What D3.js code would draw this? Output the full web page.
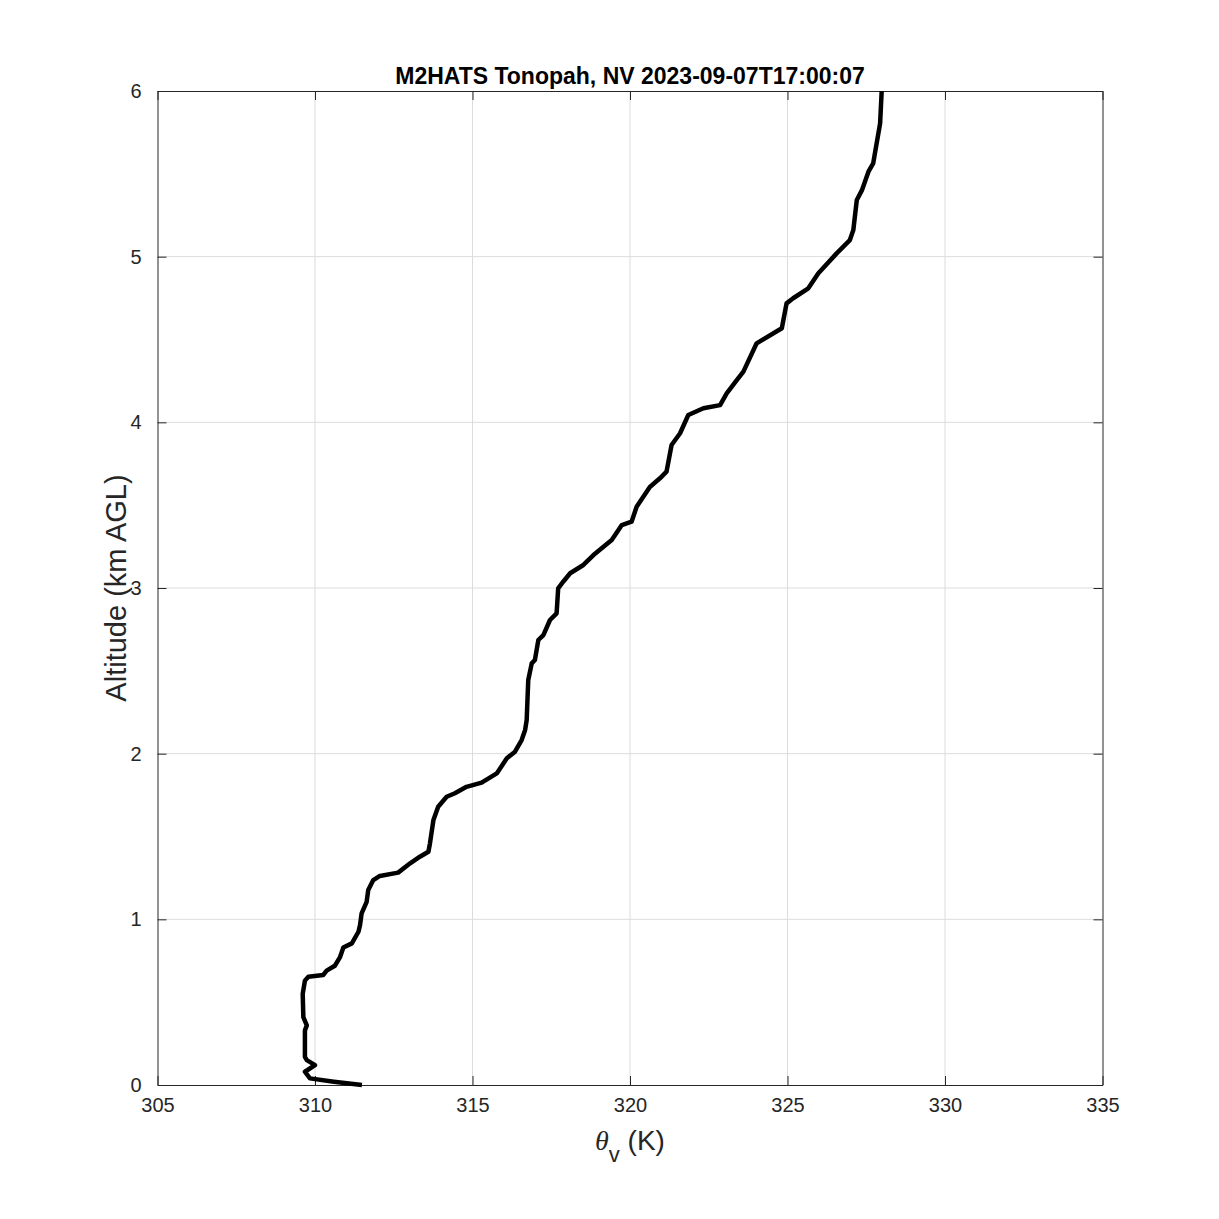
<!DOCTYPE html>
<html>
<head>
<meta charset="utf-8">
<script src="https://cdn.jsdelivr.net/npm/d3@7"></script>
<style>
  body { margin: 0; background: #fff; }
  text { font-family: "Liberation Sans", Arial, Helvetica, sans-serif; }
</style>
</head>
<body>
<div id="chart"></div>
<script>
// virtual potential temperature (K) and altitude (km AGL)
var theta = [311.49, 310.6, 309.84, 309.68, 310.0, 309.74, 309.68, 309.68, 309.74, 309.63, 309.61, 309.68,
  309.79, 310.26, 310.37, 310.63, 310.79, 310.9, 311.17, 311.38, 311.43, 311.48, 311.64, 311.69,
  311.85, 312.06, 312.64, 313.02, 313.33, 313.6, 313.65, 313.76, 313.91, 314.18, 314.44, 314.81,
  315.29, 315.77, 316.09, 316.35, 316.56, 316.67, 316.72, 316.77, 316.88, 316.98, 317.09, 317.25,
  317.46, 317.67, 317.72, 317.88, 318.1, 318.52, 318.84, 319.42, 319.74, 320.05, 320.21, 320.63,
  320.95, 321.16, 321.32, 321.59, 321.85, 322.33, 322.86, 323.07, 323.39, 323.6, 324.02, 324.82,
  324.97, 325.18, 325.66, 325.98, 326.56, 326.98, 327.09, 327.2, 327.36, 327.57, 327.72, 327.83,
  327.94, 327.99];
var alt = [0.0, 0.02, 0.04, 0.08, 0.12, 0.15, 0.17, 0.33, 0.36, 0.41, 0.55, 0.63,
  0.654, 0.664, 0.69, 0.72, 0.77, 0.83, 0.855, 0.925, 0.966, 1.036, 1.106, 1.177,
  1.237, 1.262, 1.282, 1.338, 1.378, 1.408, 1.459, 1.6, 1.68, 1.74, 1.761, 1.8,
  1.825, 1.881, 1.972, 2.012, 2.082, 2.143, 2.203, 2.445, 2.545, 2.565, 2.686, 2.716,
  2.807, 2.847, 2.998, 3.038, 3.089, 3.139, 3.199, 3.29, 3.38, 3.40, 3.49, 3.61,
  3.662, 3.702, 3.863, 3.934, 4.044, 4.085, 4.104, 4.175, 4.255, 4.306, 4.477, 4.568,
  4.718, 4.749, 4.809, 4.9, 5.02, 5.1, 5.161, 5.342, 5.4, 5.513, 5.563, 5.684,
  5.805, 6.0];
var xTicks = [305, 310, 315, 320, 325, 330, 335];
var yTicks = [0, 1, 2, 3, 4, 5, 6];
var title = "M2HATS Tonopah, NV 2023-09-07T17:00:07";

var W = 1219, H = 1219;
var margin = {top: 91, right: 116.5, bottom: 134, left: 157.5};
var width = W - margin.left - margin.right;
var height = H - margin.top - margin.bottom;

var svg = d3.select('#chart').append('svg')
    .attr('width', W)
    .attr('height', H);
var g = svg.append('g')
    .attr('transform', 'translate(' + margin.left + ',' + margin.top + ')');

var x = d3.scaleLinear().domain([305, 335]).range([0, width]);
var y = d3.scaleLinear().domain([0, 6]).range([height, 0]);

// grid
g.append('g').selectAll('line').data(xTicks.slice(1, -1)).enter().append('line')
    .attr('x1', d => x(d)).attr('x2', d => x(d))
    .attr('y1', 0).attr('y2', height)
    .attr('stroke', '#dcdcdc').attr('stroke-width', 1);
g.append('g').selectAll('line').data(yTicks.slice(1, -1)).enter().append('line')
    .attr('y1', d => y(d)).attr('y2', d => y(d))
    .attr('x1', 0).attr('x2', width)
    .attr('stroke', '#dcdcdc').attr('stroke-width', 1);

// axes, ticks pointing inward on all four sides
function styleAxis(sel) {
  sel.select('.domain').attr('stroke', '#262626');
  sel.selectAll('.tick line').attr('stroke', '#262626');
  sel.selectAll('text').attr('font-size', '20px').attr('fill', '#262626')
    .style('font-family', '"Liberation Sans", Arial, sans-serif');
}
g.append('g').attr('transform', 'translate(0,' + height + ')')
    .call(d3.axisBottom(x).tickValues(xTicks).tickSize(-9).tickSizeOuter(0).tickPadding(13).tickFormat(d3.format('d')))
    .call(styleAxis);
g.append('g')
    .call(d3.axisTop(x).tickValues(xTicks).tickSize(-9).tickSizeOuter(0).tickFormat(''))
    .call(styleAxis);
g.append('g')
    .call(d3.axisLeft(y).tickValues(yTicks).tickSize(-9).tickSizeOuter(0).tickPadding(16).tickFormat(d3.format('d')))
    .call(styleAxis);
g.append('g').attr('transform', 'translate(' + width + ',0)')
    .call(d3.axisRight(y).tickValues(yTicks).tickSize(-9).tickSizeOuter(0).tickFormat(''))
    .call(styleAxis);

// profile
var pts = theta.map((t, i) => [t, alt[i]]);
var line = d3.line().x(d => x(d[0])).y(d => y(d[1]));
g.append('path')
    .datum(pts)
    .attr('d', line)
    .attr('fill', 'none')
    .attr('stroke', '#000')
    .attr('stroke-width', 4.5)
    .attr('stroke-linejoin', 'round')
    .attr('stroke-linecap', 'butt');

// title
svg.append('text')
    .attr('x', margin.left + width / 2)
    .attr('y', 84)
    .attr('text-anchor', 'middle')
    .attr('font-size', '23px')
    .attr('font-weight', 'bold')
    .attr('fill', '#000')
    .text(title);

// y label
svg.append('text')
    .attr('transform', 'translate(126,' + (margin.top + height / 2) + ') rotate(-90)')
    .attr('text-anchor', 'middle')
    .attr('font-size', '29px')
    .attr('fill', '#262626')
    .text('Altitude (km AGL)');

// x label
var xl = svg.append('text')
    .attr('x', margin.left + width / 2)
    .attr('y', 1150)
    .attr('text-anchor', 'middle')
    .attr('font-size', '28px')
    .attr('fill', '#262626');
xl.append('tspan').attr('font-style', 'italic').style('font-family', '"Liberation Serif", "Times New Roman", serif').text('θ');
xl.append('tspan').attr('dy', 12).attr('font-size', '22px').text('v');
xl.append('tspan').attr('dy', -12).text(' (K)');
</script>
</body>
</html>
